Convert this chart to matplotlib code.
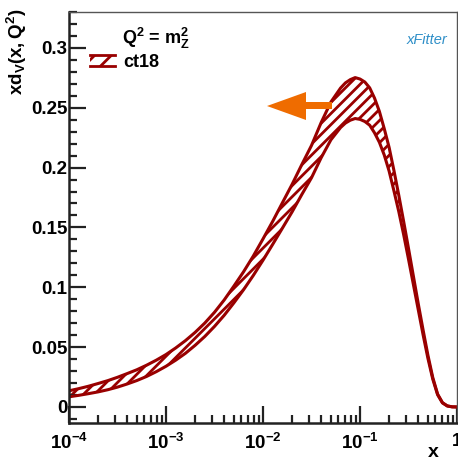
import numpy as np
import matplotlib
matplotlib.use("Agg")
import matplotlib.pyplot as plt
from matplotlib.patches import Patch, Polygon, Rectangle
from matplotlib.lines import Line2D
from matplotlib.legend_handler import HandlerBase
from matplotlib.ticker import FixedLocator, MultipleLocator, FuncFormatter, LogLocator, NullFormatter

# ---- data ----
log_x = [-4.0, -3.9, -3.8, -3.7, -3.6, -3.5, -3.4, -3.3, -3.2, -3.1,
         -3.0, -2.9, -2.8, -2.7, -2.6, -2.5, -2.4, -2.3, -2.2, -2.1,
         -2.0, -1.9, -1.8, -1.7, -1.6, -1.5, -1.4, -1.3, -1.2, -1.15,
         -1.1, -1.05, -1.0, -0.95, -0.9, -0.85, -0.8, -0.75, -0.7, -0.65,
         -0.6, -0.55, -0.5, -0.45, -0.4, -0.35, -0.3, -0.25, -0.2, -0.15,
         -0.1, -0.05, 0.0]
upper = [0.0135, 0.0153, 0.0173, 0.0196, 0.0220, 0.0248, 0.0279, 0.0311, 0.0349, 0.0391,
         0.0438, 0.0493, 0.0554, 0.0623, 0.0701, 0.0791, 0.0894, 0.1010, 0.1130, 0.1261,
         0.1404, 0.1551, 0.1706, 0.1860, 0.2025, 0.2185, 0.2377, 0.2548, 0.2665, 0.2708,
         0.2735, 0.2752, 0.2740, 0.2715, 0.2666, 0.2580, 0.2469, 0.2325, 0.2169, 0.1975,
         0.1768, 0.1550, 0.1325, 0.1095, 0.0865, 0.0645, 0.0433, 0.0247, 0.0108, 0.0036,
         0.0009, 0.0001, 0.0]
lower = [0.0085, 0.0097, 0.0111, 0.0126, 0.0144, 0.0166, 0.0192, 0.0221, 0.0255, 0.0295,
         0.0340, 0.0391, 0.0448, 0.0515, 0.0589, 0.0673, 0.0766, 0.0870, 0.0980, 0.1099,
         0.1226, 0.1359, 0.1494, 0.1630, 0.1775, 0.1915, 0.2083, 0.2232, 0.2335, 0.2372,
         0.2396, 0.2410, 0.2403, 0.2385, 0.2354, 0.2290, 0.2211, 0.2105, 0.1971, 0.1805,
         0.1632, 0.1440, 0.1235, 0.1025, 0.0815, 0.0605, 0.0407, 0.0233, 0.0102, 0.0034,
         0.0008, 0.0001, 0.0]
series_label = "ct18"
x_ticks = [1e-4, 1e-3, 1e-2, 1e-1, 1.0]
x_tick_labels = [r"$\mathbf{10^{-4}}$", r"$\mathbf{10^{-3}}$", r"$\mathbf{10^{-2}}$",
                 r"$\mathbf{10^{-1}}$", r"$\mathbf{1}$"]
y_ticks = [0, 0.05, 0.1, 0.15, 0.2, 0.25, 0.3]
y_tick_labels = ["0", "0.05", "0.1", "0.15", "0.2", "0.25", "0.3"]

x = [10 ** v for v in log_x]

plt.rcParams['font.family'] = ['Liberation Sans', 'DejaVu Sans']
plt.rcParams['font.weight'] = 'bold'
plt.rcParams['mathtext.fontset'] = 'custom'
plt.rcParams['mathtext.rm'] = 'Liberation Sans:bold'
plt.rcParams['mathtext.bf'] = 'Liberation Sans:bold'
plt.rcParams['mathtext.it'] = 'Liberation Sans:bold'
plt.rcParams['hatch.linewidth'] = 2.0

RED = '#990000'
HATCH = '///'

W, H = 458, 465
fig = plt.figure(figsize=(W / 100, H / 100), dpi=100)
L, R, T, B = 69, 457, 12, 423
ax = fig.add_axes([L / W, (H - B) / H, (R - L) / W, (B - T) / H])

ax.set_xscale('log')
ax.set_xlim(1e-4, 1.0)
ax.set_ylim(-0.0134, 0.330)

ax.fill_between(x, lower, upper, facecolor='none', edgecolor=RED, hatch=HATCH, linewidth=0)
ax.plot(x, upper, color=RED, lw=2.2, solid_joinstyle='round')
ax.plot(x, lower, color=RED, lw=2.2, solid_joinstyle='round')

# ticks
ax.xaxis.set_major_locator(FixedLocator(x_ticks))
ax.xaxis.set_major_formatter(FuncFormatter(lambda v, p: x_tick_labels[x_ticks.index(v)] if v in x_ticks else ""))
ax.xaxis.set_minor_locator(LogLocator(base=10, subs=np.arange(2, 10)))
ax.xaxis.set_minor_formatter(NullFormatter())
ax.yaxis.set_major_locator(FixedLocator(y_ticks))
ax.set_yticklabels(y_tick_labels)
ax.yaxis.set_minor_locator(MultipleLocator(0.01))
ax.tick_params(axis='both', which='both', direction='in', top=False, right=False, width=1.6, color='#222222')
ax.tick_params(axis='both', which='major', length=12)
ax.tick_params(axis='both', which='minor', length=6)
ax.tick_params(axis='y', labelsize=13.5, pad=1)
ax.tick_params(axis='x', labelsize=13.5, pad=7)
for s in ['left', 'bottom']:
    ax.spines[s].set_linewidth(1.8)
    ax.spines[s].set_color('#222222')
for s in ['top', 'right']:
    ax.spines[s].set_linewidth(1.0)
    ax.spines[s].set_color('#555555')

# axis labels
fig.text(17 / W, 1 - 9 / H, r"$\mathbf{xd_{V}(x,Q^{2})}$", rotation=90, ha='center', va='top', fontsize=13.5)
fig.text(433 / W, 1 - 461 / H, "x", ha='center', va='bottom', fontsize=14, fontweight='bold')

# annotation texts
fig.text(122 / W, 1 - 44 / H, r"$\mathbf{Q^{2}}$ = $\mathbf{m_{Z}^{2}}$", ha='left', va='baseline', fontsize=13)


class BandHandler(HandlerBase):
    def create_artists(self, legend, orig_handle, xdescent, ydescent, width, height, fontsize, trans):
        x0, y0 = -xdescent, -ydescent
        r = Rectangle((x0, y0), width, height, facecolor='none', edgecolor=RED, hatch='//',
                      linewidth=0, transform=trans)
        l1 = Line2D([x0, x0 + width], [y0 + height, y0 + height], color=RED, lw=2, transform=trans)
        l2 = Line2D([x0, x0 + width], [y0, y0], color=RED, lw=2, transform=trans)
        return [r, l1, l2]


handle = Patch(facecolor='none', edgecolor=RED, hatch=HATCH, linewidth=0)
leg = ax.legend([handle], [series_label], loc='upper left',
                bbox_to_anchor=((90 - L) / (R - L), (B - 54) / (B - T)),
                frameon=False, fontsize=13, handlelength=1.38, handleheight=0.6, handletextpad=0.45,
                borderaxespad=0, borderpad=0, handler_map={Patch: BandHandler()})

# orange arrow (annotation)
def px(xp, yp):
    return ((xp - L) / (R - L), (B - yp) / (B - T))
arrow_pts = [px(267, 106), px(306, 92), px(306, 102), px(332, 102), px(332, 109), px(306, 109), px(306, 120)]
ax.add_patch(Polygon(arrow_pts, closed=True, transform=ax.transAxes, facecolor='#ef6c00', edgecolor='none', zorder=5))

# xFitter logo
fig.text(427 / W, 1 - 40 / H, "xFitter", ha='center', va='center', fontsize=10.5, style='italic',
         fontweight='normal', color='#2f8fc8')

fig.savefig('out.png', dpi=100)
